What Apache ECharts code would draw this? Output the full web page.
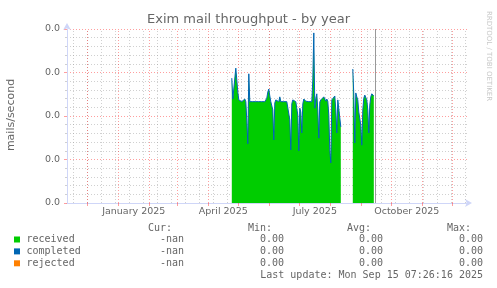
<!DOCTYPE html>
<html><head><meta charset="utf-8">
<script src="https://cdn.jsdelivr.net/npm/echarts@6/dist/echarts.min.js"></script>
<style>html,body{margin:0;padding:0;background:#fff}#c{width:497px;height:288px}</style>
</head><body><div id="c"></div><script>
// ---------- data ----------
const chartTitle = 'Exim mail throughput - by year';
const yAxisName = 'mails/second';
const sideText = 'RRDTOOL / TOBI OETIKER';
const seriesNames = ['received', 'completed', 'rejected'];
const seriesColors = ['#00CC00', '#0066B3', '#FF8000'];

// daily values (mails/second), two contiguous runs of days
const segmentStarts = ['2025-04-24', '2025-08-23'];
const receivedSeg1 = [
  0.0287, 0.0239, 0.0239, 0.0237, 0.0310, 0.0283, 0.0255, 0.0237, 0.0233, 0.0233,
  0.0233, 0.0233, 0.0237, 0.0239, 0.0233, 0.0191, 0.0136, 0.0297, 0.0233, 0.0233,
  0.0233, 0.0233, 0.0233, 0.0233, 0.0233, 0.0233, 0.0233, 0.0233, 0.0233, 0.0233,
  0.0233, 0.0233, 0.0233, 0.0233, 0.0233, 0.0241, 0.0255, 0.0262, 0.0246, 0.0233,
  0.0233, 0.0214, 0.0145, 0.0230, 0.0237, 0.0233, 0.0233, 0.0233, 0.0244, 0.0233,
  0.0233, 0.0233, 0.0233, 0.0233, 0.0233, 0.0233, 0.0233, 0.0233, 0.0191, 0.0122,
  0.0228, 0.0237, 0.0234, 0.0233, 0.0233, 0.0232, 0.0202, 0.0120, 0.0218, 0.0209,
  0.0161, 0.0228, 0.0239, 0.0237, 0.0234, 0.0233, 0.0233, 0.0233, 0.0233, 0.0233,
  0.0233, 0.0283, 0.0391, 0.0218, 0.0241, 0.0251, 0.0214, 0.0149, 0.0232, 0.0237,
  0.0233, 0.0239, 0.0244, 0.0239, 0.0234, 0.0239, 0.0234, 0.0202, 0.0122, 0.0092,
  0.0237, 0.0241, 0.0237, 0.0246, 0.0214, 0.0161, 0.0237, 0.0241, 0.0234, 0.0175
];
const receivedSeg2 = [
  0.0308, 0.0248, 0.0138, 0.0253, 0.0244, 0.0237, 0.0209, 0.0207, 0.0179, 0.0133,
  0.0214, 0.0241, 0.0248, 0.0244, 0.0237, 0.0214, 0.0161, 0.0225, 0.0244, 0.0251,
  0.0248, 0.0246
];
const completedSeg1 = [
  0.0287, 0.0239, 0.0239, 0.0237, 0.0310, 0.0283, 0.0255, 0.0237, 0.0233, 0.0233,
  0.0233, 0.0233, 0.0237, 0.0239, 0.0233, 0.0191, 0.0136, 0.0297, 0.0233, 0.0233,
  0.0233, 0.0233, 0.0233, 0.0233, 0.0233, 0.0233, 0.0233, 0.0233, 0.0233, 0.0233,
  0.0233, 0.0233, 0.0233, 0.0233, 0.0233, 0.0241, 0.0255, 0.0262, 0.0246, 0.0233,
  0.0233, 0.0214, 0.0145, 0.0230, 0.0237, 0.0233, 0.0233, 0.0233, 0.0244, 0.0233,
  0.0233, 0.0233, 0.0233, 0.0233, 0.0233, 0.0233, 0.0233, 0.0233, 0.0191, 0.0122,
  0.0228, 0.0237, 0.0234, 0.0233, 0.0233, 0.0232, 0.0202, 0.0120, 0.0218, 0.0209,
  0.0161, 0.0228, 0.0239, 0.0237, 0.0234, 0.0233, 0.0233, 0.0233, 0.0233, 0.0233,
  0.0233, 0.0283, 0.0391, 0.0218, 0.0241, 0.0251, 0.0214, 0.0149, 0.0232, 0.0237,
  0.0233, 0.0239, 0.0244, 0.0239, 0.0234, 0.0239, 0.0234, 0.0202, 0.0122, 0.0092,
  0.0237, 0.0241, 0.0237, 0.0246, 0.0214, 0.0161, 0.0237, 0.0241, 0.0234, 0.0175
];
const completedSeg2 = [
  0.0308, 0.0248, 0.0138, 0.0253, 0.0244, 0.0237, 0.0209, 0.0207, 0.0179, 0.0133,
  0.0214, 0.0241, 0.0248, 0.0244, 0.0237, 0.0214, 0.0161, 0.0225, 0.0244, 0.0251,
  0.0248, 0.0246
];
const rejectedSeg1 = [];   // -nan: nothing drawn
const rejectedSeg2 = [];

// axes
const viewStart = '2024-11-10T16:48:00Z';
const viewDays = 401;
const nowTime = '2025-09-15T07:26:16Z';
const xLabels = ['January 2025', 'April 2025', 'July 2025', 'October 2025'];
const xLabelMonths = ['2025-01', '2025-04', '2025-07', '2025-10'];
const minorGridAnchor = '2024-12-29';   // minor grid every 14 days
const minorGridDays = 14;
const yMin = 0, yMax = 0.04, yStep = 0.01;

// legend table
const legendCur = ['-nan', '-nan', '-nan'];
const legendMin = ['0.00', '0.00', '0.00'];
const legendAvg = ['0.00', '0.00', '0.00'];
const legendMax = ['0.00', '0.00', '0.00'];
const legendHeaders = ['Cur:', 'Min:', 'Avg:', 'Max:'];
const lastUpdate = 'Last update: Mon Sep 15 07:26:16 2025';

// ---------- build ----------
const DAY = 86400000;
const t = s => Date.parse(s.length === 10 ? s + 'T00:00:00Z' : (s.length === 7 ? s + '-01T00:00:00Z' : s));
const xMin = t(viewStart);
const xMax = xMin + viewDays * DAY;

function build(segs) {
  const out = [];
  segs.forEach((vals, k) => {
    const s0 = t(segmentStarts[k]);
    vals.forEach((v, i) => out.push([s0 + i * DAY + DAY / 2, v]));
    if (vals.length) out.push([s0 + vals.length * DAY + DAY / 2, null]);
  });
  return out;
}

const monthStarts = [];
{
  const d = new Date(xMin);
  let y = d.getUTCFullYear(), m = d.getUTCMonth() + 1;
  while (true) {
    const ts = Date.UTC(y, m, 1);
    if (ts > xMax) break;
    if (ts >= xMin) monthStarts.push(ts);
    m++; if (m > 11) { m = 0; y++; }
  }
}
const minorGrid = [];
{
  let ts = t(minorGridAnchor);
  while (ts - minorGridDays * DAY >= xMin) ts -= minorGridDays * DAY;
  for (; ts <= xMax; ts += minorGridDays * DAY) minorGrid.push(ts);
}
const labelTimes = xLabelMonths.map(mo => {
  const a = t(mo); const d = new Date(a);
  const b = Date.UTC(d.getUTCFullYear(), d.getUTCMonth() + 1, 1);
  return (a + b) / 2;
});

const FONT = 'DejaVu Sans';
const MONO = 'DejaVu Sans Mono';
const TXT = '#666666';
const AXIS = '#CFD6F8';
const MGRID = 'rgba(255,0,0,0.38)';
const GRID = 'rgba(150,150,150,0.45)';

const gridLines = [
  ...minorGrid.map(ts => ({ xAxis: ts, lineStyle: { color: GRID, type: [1, 2], width: 1 } })),
  ...monthStarts.map(ts => ({ xAxis: ts, lineStyle: { color: MGRID, type: [1, 2], width: 1 } }))
];

const rowY = [239.5, 251.4, 263.3];
const colRight = [184, 284, 383, 483];
const legendGraphic = [];
legendHeaders.forEach((h, j) => legendGraphic.push({
  type: 'text', x: colRight[j] - 12, y: 228.3,
  style: { text: h, font: `10px "${MONO}"`, fill: TXT, align: 'right', verticalAlign: 'middle' }
}));
seriesNames.forEach((n, i) => {
  legendGraphic.push({ type: 'rect', shape: { x: 14, y: rowY[i] - 3, width: 6, height: 6 }, style: { fill: seriesColors[i] } });
  legendGraphic.push({ type: 'text', x: 26.5, y: rowY[i], style: { text: n, font: `10px "${MONO}"`, fill: TXT, align: 'left', verticalAlign: 'middle' } });
  [legendCur[i], legendMin[i], legendAvg[i], legendMax[i]].forEach((v, j) => legendGraphic.push({
    type: 'text', x: colRight[j], y: rowY[i],
    style: { text: v, font: `10px "${MONO}"`, fill: TXT, align: 'right', verticalAlign: 'middle' }
  }));
});
legendGraphic.push({ type: 'text', x: 483, y: 275.5,
  style: { text: lastUpdate, font: `10px "${MONO}"`, fill: TXT, align: 'right', verticalAlign: 'middle' } });

const chart = echarts.init(document.getElementById('c'), null, { renderer: 'canvas' });
chart.setOption({
  animation: false,
  backgroundColor: '#ffffff',
  title: { text: chartTitle, left: 'center', top: 13, padding: 0,
    textStyle: { fontFamily: FONT, fontSize: 13, fontWeight: 'normal', color: TXT } },
  grid: { left: 67, right: 29, top: 29, bottom: 85, containLabel: false },
  xAxis: {
    type: 'value', min: xMin, max: xMax,
    axisLine: { show: true, lineStyle: { color: AXIS, width: 1 }, symbol: ['none', 'arrow'], symbolSize: [6, 7], symbolOffset: [0, 4] },
    axisTick: { show: true, customValues: monthStarts, length: 3, lineStyle: { color: MGRID } },
    axisLabel: { customValues: labelTimes, fontFamily: FONT, fontSize: 9.5, color: TXT, margin: 4,
      formatter: v => { const i = labelTimes.findIndex(x => Math.abs(x - v) < DAY); return i >= 0 ? xLabels[i] : ''; } },
    splitLine: { show: false }
  },
  yAxis: {
    type: 'value', min: yMin, max: yMax, interval: yStep,
    axisLine: { show: true, lineStyle: { color: AXIS, width: 1 }, symbol: ['none', 'arrow'], symbolSize: [6, 7], symbolOffset: [0, 6] },
    axisTick: { show: true, length: 3, lineStyle: { color: MGRID } },
    minorTick: { show: true, splitNumber: 5, length: 2, lineStyle: { color: GRID } },
    axisLabel: { formatter: v => v.toFixed(1), fontFamily: FONT, fontSize: 9.5, color: TXT, margin: 7 },
    splitLine: { show: true, lineStyle: { color: MGRID, type: [1, 2] } },
    minorSplitLine: { show: true, lineStyle: { color: GRID, type: [1, 2] } }
  },
  series: [
    { name: seriesNames[2], type: 'line', z: 1, data: build([rejectedSeg1, rejectedSeg2]),
      showSymbol: false, lineStyle: { color: seriesColors[2], width: 1 },
      markLine: { silent: true, z: 1, symbol: ['none', 'none'], label: { show: false }, emphasis: { disabled: true }, data: gridLines } },
    { name: seriesNames[0], type: 'line', z: 2, data: build([receivedSeg1, receivedSeg2]),
      showSymbol: false, connectNulls: false, lineStyle: { width: 0, opacity: 0 },
      areaStyle: { color: seriesColors[0], opacity: 1 }, emphasis: { disabled: true } },
    { name: seriesNames[1], type: 'line', z: 3, data: build([completedSeg1, completedSeg2]),
      showSymbol: false, connectNulls: false, lineStyle: { color: seriesColors[1], width: 1 }, emphasis: { disabled: true },
      markLine: { silent: true, symbol: ['none', 'none'], label: { show: false }, emphasis: { disabled: true },
        data: [{ xAxis: t(nowTime), lineStyle: { color: '#999999', type: 'solid', width: 1 } }] } }
  ],
  graphic: [
    { type: 'text', x: 11, y: 115, rotation: Math.PI / 2,
      style: { text: yAxisName, font: `11px "${FONT}"`, fill: TXT, align: 'center', verticalAlign: 'middle' } },
    { type: 'text', x: 488.5, y: 56, rotation: -Math.PI / 2,
      style: { text: sideText, font: `7px "${FONT}"`, fill: '#c8c8c8', align: 'center', verticalAlign: 'middle' } },
    ...legendGraphic
  ]
});
</script></body></html>
